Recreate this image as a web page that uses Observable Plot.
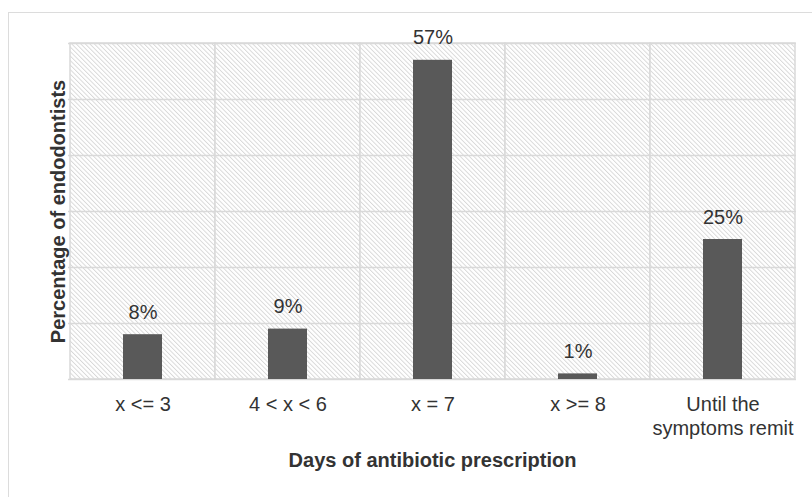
<!DOCTYPE html>
<html>
<head>
<meta charset="utf-8">
<script src="https://cdn.jsdelivr.net/npm/d3@7"></script>
<script src="https://cdn.jsdelivr.net/npm/@observablehq/plot@0.6"></script>
<style>
  body { margin: 0; background: #fff; }
  #wrap { position: relative; width: 812px; height: 497px; overflow: hidden; }
  #border { position: absolute; left: 8px; top: 12px; width: 900px; height: 600px; border: 1.5px solid #dcdcdc; box-sizing: border-box; }
  #chart { position: absolute; left: 0; top: 0; }
</style>
</head>
<body>
<div id="wrap"><div id="border"></div><div id="chart"></div></div>
<script>
const categories = ["x <= 3", "4 < x < 6", "x = 7", "x >= 8", "Until the\nsymptoms remit"];
const values = [8, 9, 57, 1, 25];
const yTicks = [0, 10, 20, 30, 40, 50, 60];
const xTitle = "Days of antibiotic prescription";
const yTitle = "Percentage of endodontists";

const data = categories.map((c, i) => ({category: c, value: values[i]}));

const plot = Plot.plot({
  width: 812,
  height: 497,
  marginLeft: 68,
  marginRight: 16,
  marginTop: 43,
  marginBottom: 118,
  style: {fontFamily: "'Liberation Sans', Arial, Helvetica, sans-serif", background: "transparent"},
  x: {domain: categories, padding: 0},
  y: {domain: [0, 60], axis: null},
  marks: [
    Plot.cell(categories, {x: d => d, fill: "url(#hatch)", stroke: "#d9d9d9", strokeWidth: 1.5, inset: 0}),
    Plot.ruleY(yTicks, {stroke: "#d9d9d9", strokeWidth: 1.5}),
    Plot.barY(data, {x: "category", y: "value", fill: "#595959", insetLeft: 53, insetRight: 53}),
    Plot.text(data, {x: "category", y: "value", text: d => d.value + "%", dy: -16, lineAnchor: "bottom", fontSize: 20, fill: "#333"}),
    Plot.axisX({tickSize: 0, tickPadding: 14, fontSize: 20, fill: "#333", label: null, lineHeight: 1.2}),
    Plot.text([xTitle], {frameAnchor: "bottom", textAnchor: "middle", lineAnchor: "middle", dy: 81, fontSize: 20, fontWeight: "bold", fill: "#333"}),
    Plot.text([yTitle], {frameAnchor: "left", textAnchor: "middle", lineAnchor: "middle", rotate: -90, dx: -10, fontSize: 20, fontWeight: "bold", fill: "#333"})
  ]
});

const ns = "http://www.w3.org/2000/svg";
const defs = document.createElementNS(ns, "defs");
const pattern = document.createElementNS(ns, "pattern");
pattern.setAttribute("id", "hatch");
pattern.setAttribute("patternUnits", "userSpaceOnUse");
pattern.setAttribute("width", "3.2");
pattern.setAttribute("height", "3.2");
pattern.setAttribute("patternTransform", "rotate(-45)");
const bg = document.createElementNS(ns, "rect");
bg.setAttribute("width", "3.2"); bg.setAttribute("height", "3.2"); bg.setAttribute("fill", "#fff");
const ln = document.createElementNS(ns, "line");
ln.setAttribute("x1", "0.5"); ln.setAttribute("y1", "0"); ln.setAttribute("x2", "0.5"); ln.setAttribute("y2", "3.2");
ln.setAttribute("stroke", "#d2d2d2"); ln.setAttribute("stroke-width", "0.8");
pattern.appendChild(bg); pattern.appendChild(ln);
defs.appendChild(pattern);
plot.insertBefore(defs, plot.firstChild);

document.getElementById("chart").appendChild(plot);
</script>
</body>
</html>
